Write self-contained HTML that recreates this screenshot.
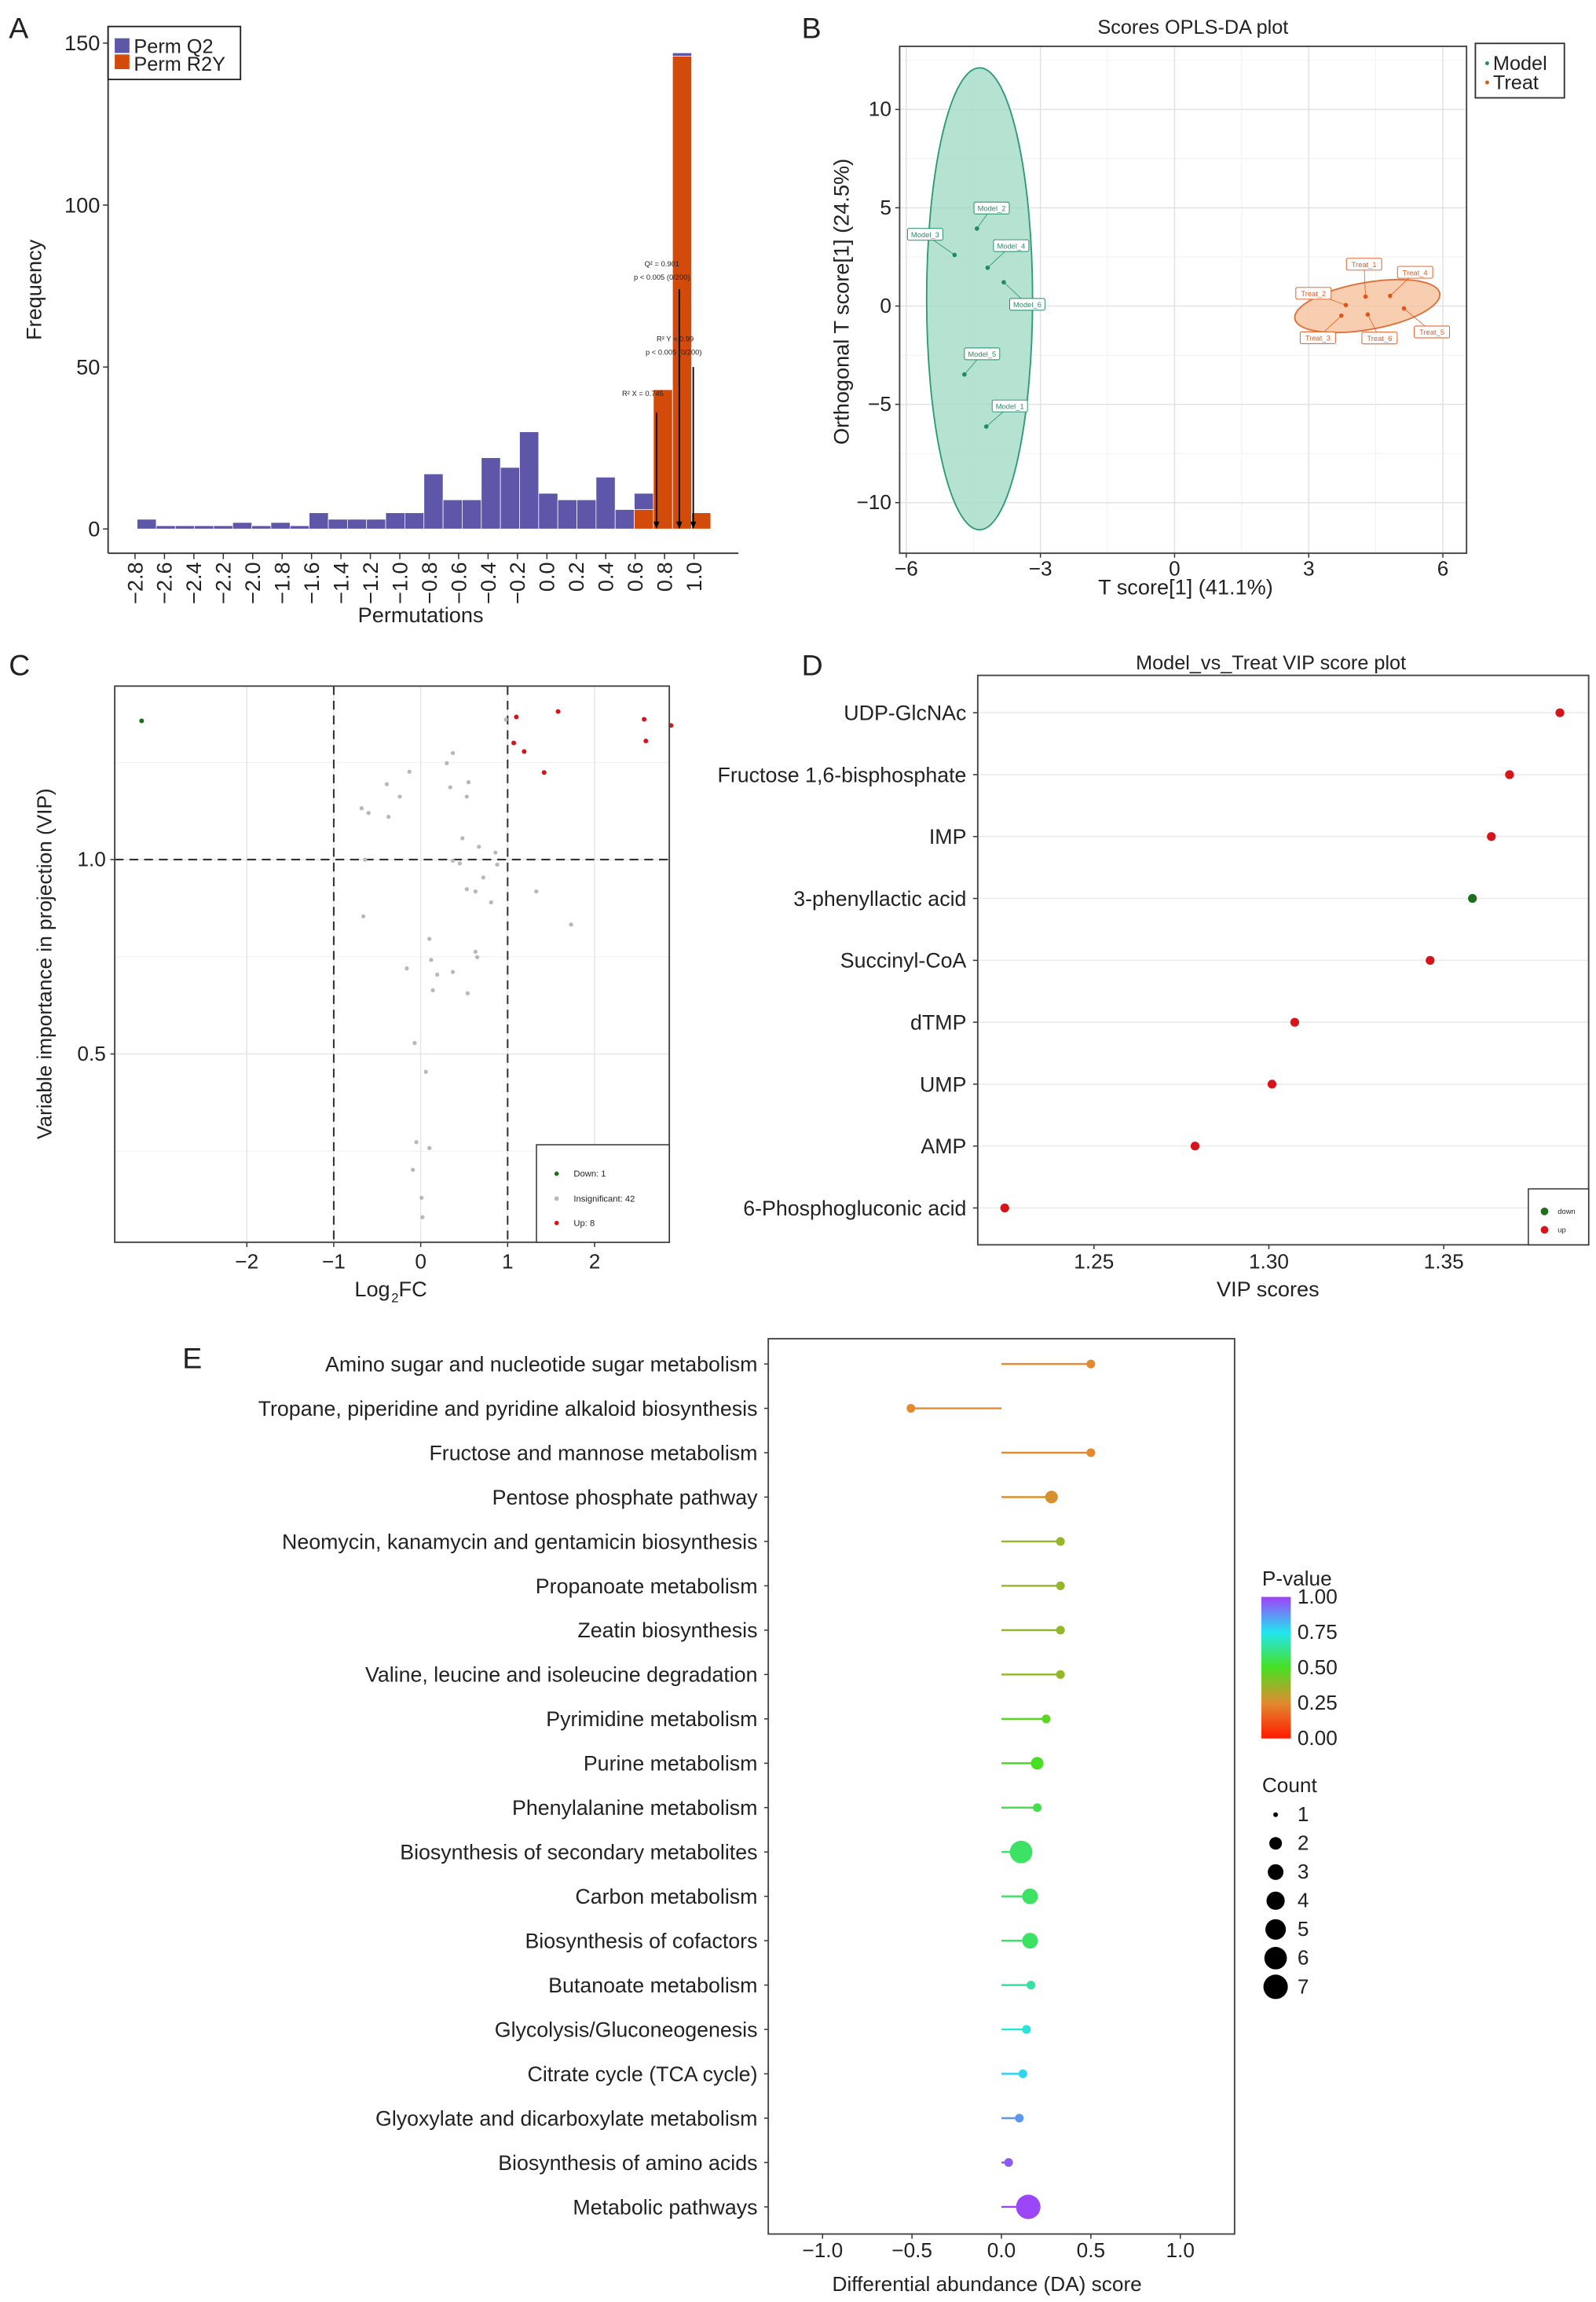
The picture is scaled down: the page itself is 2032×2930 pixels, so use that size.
<!DOCTYPE html>
<html><head><meta charset="utf-8">
<style>
html,body{margin:0;padding:0;background:#fff;}
svg{display:block;}
text{font-family:"Liberation Sans",Arial,sans-serif;fill:#222;}
</style></head>
<body>
<svg id="fig" xmlns="http://www.w3.org/2000/svg" width="2032" height="2930" viewBox="0 0 1085 1564.5" preserveAspectRatio="none"></svg>
<script>
// ---------- Panel A data ----------
const aTicks = [-2.8,-2.6,-2.4,-2.2,-2.0,-1.8,-1.6,-1.4,-1.2,-1.0,-0.8,-0.6,-0.4,-0.2,0.0,0.2,0.4,0.6,0.8,1.0];
const aYTicks = [0,50,100,150];
const aQ2 = [3,1,1,1,1,2,1,2,1,5,3,3,3,5,5,17,9,9,22,19,30,11,9,9,16,6,11,0,147,0];
const aR2Y = [0,0,0,0,0,0,0,0,0,0,0,0,0,0,0,0,0,0,0,0,0,0,0,0,0,0,6,43,146,5];
const aArrowX = [0.745,0.90,0.995];
const aArrowTop = [36,74,50];
// ---------- Panel B data ----------
const bModelNames = ["Model_1","Model_2","Model_3","Model_4","Model_5","Model_6"];
const bModelX = [-4.21,-4.42,-4.92,-4.18,-4.70,-3.82];
const bModelY = [-6.13,3.94,2.6,1.95,-3.48,1.21];
const bTreatNames = ["Treat_1","Treat_2","Treat_3","Treat_4","Treat_5","Treat_6"];
const bTreatX = [4.27,3.83,3.73,4.82,5.13,4.32];
const bTreatY = [0.48,0.05,-0.49,0.52,-0.12,-0.43];
const bXTicks = [-6,-3,0,3,6];
const bYTicks = [-10,-5,0,5,10];
// ---------- Panel C data ----------
const cDownX = [-3.21];
const cDownY = [1.357];
const cUpX = [1.10,1.58,2.57,2.88,1.07,1.19,2.59,1.42];
const cUpY = [1.367,1.381,1.361,1.345,1.30,1.278,1.305,1.224];
const cInsX = [0.37,0.30,-0.13,-0.39,0.34,0.55,-0.24,0.53,-0.68,-0.60,-0.37,0.48,0.67,0.86,-0.64,0.37,0.88,0.72,0.53,0.63,1.33,0.81,-0.66,1.73,0.10,0.63,0.65,0.12,-0.16,0.19,0.37,0.14,0.54,-0.07,0.06,-0.05,0.10,-0.09,0.01,0.02,0.98,0.45];
const cInsY = [1.274,1.248,1.226,1.194,1.186,1.199,1.162,1.162,1.132,1.12,1.11,1.055,1.033,1.018,1.0,0.997,0.987,0.954,0.924,0.918,0.918,0.89,0.854,0.833,0.796,0.763,0.749,0.742,0.72,0.704,0.711,0.664,0.656,0.528,0.454,0.273,0.258,0.202,0.13,0.08,1.36,0.99];
const cXTicks = [-2,-1,0,1,2];
const cYTicks = [0.5,1.0];
// ---------- Panel D data ----------
const dNames = ["UDP-GlcNAc","Fructose 1,6-bisphosphate","IMP","3-phenyllactic acid","Succinyl-CoA","dTMP","UMP","AMP","6-Phosphogluconic acid"];
const dVIP = [1.3832,1.3688,1.3636,1.3582,1.3461,1.3074,1.3009,1.2789,1.2245];
const dDir = ["up","up","up","down","up","up","up","up","up"];
const dXTicks = [1.25,1.30,1.35];
// ---------- Panel E data ----------
const eNames = ["Amino sugar and nucleotide sugar metabolism","Tropane, piperidine and pyridine alkaloid biosynthesis","Fructose and mannose metabolism","Pentose phosphate pathway","Neomycin, kanamycin and gentamicin biosynthesis","Propanoate metabolism","Zeatin biosynthesis","Valine, leucine and isoleucine degradation","Pyrimidine metabolism","Purine metabolism","Phenylalanine metabolism","Biosynthesis of secondary metabolites","Carbon metabolism","Biosynthesis of cofactors","Butanoate metabolism","Glycolysis/Gluconeogenesis","Citrate cycle (TCA cycle)","Glyoxylate and dicarboxylate metabolism","Biosynthesis of amino acids","Metabolic pathways"];
const eDA = [0.50,-0.506,0.50,0.28,0.33,0.33,0.33,0.33,0.25,0.20,0.20,0.11,0.16,0.16,0.165,0.14,0.12,0.10,0.04,0.15];
const eCount = [1,1,1,2,1,1,1,1,1,2,1,6,3,3,1,1,1,1,1,7];
const ePval = [0.25,0.25,0.25,0.27,0.38,0.38,0.38,0.38,0.47,0.5,0.55,0.58,0.58,0.58,0.65,0.72,0.78,0.87,0.96,0.99];
const eXTicks = [-1.0,-0.5,0.0,0.5,1.0];
const eLegendCounts = [1,2,3,4,5,6,7];
const ePLabels = [1.00,0.75,0.50,0.25,0.00];

const NS = "http://www.w3.org/2000/svg";
const svg = document.getElementById("fig");
function mk(tag, attrs, parent){ const e=document.createElementNS(NS,tag); for(const k in attrs) e.setAttribute(k,attrs[k]); (parent||svg).appendChild(e); return e; }
function tx(str, attrs, parent){ const e=mk("text",attrs,parent); e.textContent=str; return e; }
function fmt(v,d){ const s=Math.abs(v).toFixed(d); return (v<0?"\u2212":"")+s; }
let el;

// ================= PANEL A =================
const ax = v => 91.8 + (v+2.8)*100;
const ay = v => 359.5 - v*(330.2/150);
const gA = mk("g",{});  
el = tx("A",{x:6,y:26,"font-size":20}, gA);  
const binStart=-2.786, binW=0.13;
aQ2.forEach((v,i)=>{ if(!v) return; const x0=ax(binStart+i*binW), x1=ax(binStart+(i+1)*binW);
  el=mk("rect",{x:x0,y:ay(v),width:x1-x0,height:ay(0)-ay(v),fill:"#5E56A8",stroke:"#fff","stroke-width":0.4},gA);
    });
aR2Y.forEach((v,i)=>{ if(!v) return; const x0=ax(binStart+i*binW), x1=ax(binStart+(i+1)*binW);
  el=mk("rect",{x:x0,y:ay(v),width:x1-x0,height:ay(0)-ay(v),fill:"#D24B0B",stroke:"#fff","stroke-width":0.4},gA);
    });
aArrowX.forEach((v,i)=>{ const x=ax(v);
  el=mk("line",{x1:x,y1:ay(aArrowTop[i]),x2:x,y2:ay(0)-1,stroke:"#000","stroke-width":1},gA);  
  el=mk("path",{d:`M${x-2},${ay(0)-5} L${x+2},${ay(0)-5} L${x},${ay(0)} Z`,fill:"#000"},gA);  
});
[["Q\u00B2 = 0.901",450,181],["p < 0.005 (0/200)",450,190],["R\u00B2 Y = 0.99",459,232],["p < 0.005 (0/200)",458,241],["R\u00B2 X = 0.745",437,269]].forEach(t=>{
  el=tx(t[0],{x:t[1],y:t[2],"font-size":5,"text-anchor":"middle"},gA);   });
el=mk("line",{x1:73.5,y1:18,x2:73.5,y2:376,stroke:"#333","stroke-width":1},gA);  
el=mk("line",{x1:73.5,y1:376,x2:502,y2:376,stroke:"#333","stroke-width":1},gA);  
aYTicks.forEach(v=>{ el=mk("line",{x1:70,y1:ay(v),x2:73.5,y2:ay(v),stroke:"#333","stroke-width":0.8},gA);  
  el=tx(String(v),{x:68,y:ay(v)+5,"font-size":14.5,"text-anchor":"end"},gA);   });
aTicks.forEach(v=>{ const x=ax(v);
  el=mk("line",{x1:x,y1:376,x2:x,y2:380,stroke:"#333","stroke-width":0.8},gA);  
  el=tx(fmt(v,1),{x:0,y:0,"font-size":14.5,"text-anchor":"end",transform:`translate(${x+5},382) rotate(-90)`},gA);   });
el=tx("Permutations",{x:286,y:423,"font-size":14.5,"text-anchor":"middle"},gA);  
el=tx("Frequency",{x:0,y:0,"font-size":14.5,"text-anchor":"middle",transform:"translate(28,197) rotate(-90)"},gA);  
el=mk("rect",{x:73.5,y:18,width:90,height:36,fill:"#fff",stroke:"#222","stroke-width":1},gA);  
el=mk("rect",{x:78,y:26,width:10,height:10,fill:"#5E56A8"},gA);  
el=mk("rect",{x:78,y:37,width:10,height:10,fill:"#D24B0B"},gA);  
el=tx("Perm Q2",{x:91,y:36,"font-size":13.5},gA);  
el=tx("Perm R2Y",{x:91,y:48,"font-size":13.5},gA);  

// ================= PANEL B =================
const bx = v => 798.5 + v*30.4;
const by = v => 208 - v*13.36;
const gB = mk("g",{});  
el = tx("B",{x:545,y:26,"font-size":20}, gB);  
el=tx("Scores OPLS-DA plot",{x:811,y:23,"font-size":13.5,"text-anchor":"middle"},gB);  
[-4.5,-1.5,1.5,4.5].forEach(v=>{ el=mk("line",{x1:bx(v),y1:31.5,x2:bx(v),y2:376,stroke:"#f0f0f0","stroke-width":0.5},gB);   });
[-12.5,-7.5,-2.5,2.5,7.5,12.5].forEach(v=>{ el=mk("line",{x1:611.6,y1:by(v),x2:997,y2:by(v),stroke:"#f0f0f0","stroke-width":0.5},gB);   });
bXTicks.forEach(v=>{ el=mk("line",{x1:bx(v),y1:31.5,x2:bx(v),y2:376,stroke:"#e2e2e2","stroke-width":0.8},gB);  
  el=mk("line",{x1:bx(v),y1:376,x2:bx(v),y2:379,stroke:"#333","stroke-width":0.8},gB);  
  el=tx(fmt(v,0),{x:bx(v),y:391,"font-size":14,"text-anchor":"middle"},gB);   });
bYTicks.forEach(v=>{ el=mk("line",{x1:611.6,y1:by(v),x2:997,y2:by(v),stroke:"#e2e2e2","stroke-width":0.8},gB);  
  el=mk("line",{x1:608.6,y1:by(v),x2:611.6,y2:by(v),stroke:"#333","stroke-width":0.8},gB);  
  el=tx(fmt(v,0),{x:606,y:by(v)+4.5,"font-size":14,"text-anchor":"end"},gB);   });
el=mk("ellipse",{cx:bx(-4.36),cy:by(0.37),rx:36,ry:157,fill:"#9ED8C2","fill-opacity":0.75,stroke:"#2E9B78","stroke-width":1},gB);  
el=mk("ellipse",{cx:0,cy:0,rx:50,ry:16,fill:"#F7C6A3","fill-opacity":0.85,stroke:"#E0703A","stroke-width":1,transform:`translate(${bx(4.31)},${by(0.0)}) rotate(-10)`},gB);  
const mLab = [[16,-14],[10,-14],[-20,-14],[16,-15],[12,-14],[16,15]];
const tLab = [[-1,-22],[-22,-8],[-16,15],[17,-16],[19,16],[8,16]];
function drawPts(xs,ys,names,labs,col,txtCol,nm){
  xs.forEach((v,i)=>{ const px=bx(v), py=by(ys[i]); const lx=px+labs[i][0], ly=py+labs[i][1];
    el=mk("line",{x1:px,y1:py,x2:lx,y2:ly,stroke:col,"stroke-width":0.4},gB);  
    el=mk("rect",{x:lx-12,y:ly-4,width:24,height:8,rx:1,fill:"#fff",stroke:col,"stroke-width":0.5},gB);  
    el=tx(names[i],{x:lx,y:ly+2,"font-size":5,"text-anchor":"middle",style:`fill:${txtCol}`},gB);  
    el=mk("circle",{cx:px,cy:py,r:1.5,fill:col},gB);   });
}
drawPts(bModelX,bModelY,bModelNames,mLab,"#1E8A66","#2E8A6A","model-point");
drawPts(bTreatX,bTreatY,bTreatNames,tLab,"#E0561A","#D8602A","treat-point");
el=mk("rect",{x:611.6,y:31.5,width:385.4,height:344.5,fill:"none",stroke:"#444","stroke-width":1},gB);  
el=tx("T score[1] (41.1%)",{x:806,y:404,"font-size":14.5,"text-anchor":"middle"},gB);  
el=tx("Orthogonal T score[1] (24.5%)",{x:0,y:0,"font-size":14.5,"text-anchor":"middle",transform:"translate(577,205) rotate(-90)"},gB);  
el=mk("rect",{x:1003,y:29.5,width:60.5,height:37,fill:"#fff",stroke:"#333","stroke-width":1},gB);  
el=mk("circle",{cx:1011,cy:43,r:1.3,fill:"#1E8A66"},gB);  
el=mk("circle",{cx:1011,cy:56,r:1.3,fill:"#E0561A"},gB);  
el=tx("Model",{x:1015,y:47.5,"font-size":13.5},gB);  
el=tx("Treat",{x:1015,y:60.5,"font-size":13.5},gB);  

// ================= PANEL C =================
const cx_ = v => 286 + v*59.1;
const cy_ = v => 584.2 - (v-1)*264.2;
const gC = mk("g",{});  
el = tx("C",{x:6,y:459,"font-size":20}, gC);  
[0.25,0.75,1.25].forEach(v=>{ el=mk("line",{x1:78,y1:cy_(v),x2:455,y2:cy_(v),stroke:"#f2f2f2","stroke-width":0.6},gC);   });
cXTicks.forEach(v=>{ el=mk("line",{x1:cx_(v),y1:466.3,x2:cx_(v),y2:844.3,stroke:"#e6e6e6","stroke-width":0.8},gC);  
  el=mk("line",{x1:cx_(v),y1:844.3,x2:cx_(v),y2:847.5,stroke:"#333","stroke-width":0.8},gC);  
  el=tx(fmt(v,0),{x:cx_(v),y:862,"font-size":14,"text-anchor":"middle"},gC);   });
cYTicks.forEach(v=>{ el=mk("line",{x1:78,y1:cy_(v),x2:455,y2:cy_(v),stroke:"#e6e6e6","stroke-width":0.8},gC);  
  el=mk("line",{x1:75,y1:cy_(v),x2:78,y2:cy_(v),stroke:"#333","stroke-width":0.8},gC);  
  el=tx(v.toFixed(1),{x:72,y:cy_(v)+4.5,"font-size":14,"text-anchor":"end"},gC);   });
[-1,1].forEach(v=>{ el=mk("line",{x1:cx_(v),y1:466.3,x2:cx_(v),y2:844.3,stroke:"#333","stroke-width":1.1,"stroke-dasharray":"6,4"},gC);   });
el=mk("line",{x1:78,y1:cy_(1),x2:455,y2:cy_(1),stroke:"#333","stroke-width":1.1,"stroke-dasharray":"6,4"},gC);  
cInsX.forEach((v,i)=>{ el=mk("circle",{cx:cx_(v),cy:cy_(cInsY[i]),r:1.4,fill:"#B8B8B8"},gC);   });
cUpX.forEach((v,i)=>{ el=mk("circle",{cx:cx_(v),cy:cy_(cUpY[i]),r:1.6,fill:"#D7141A"},gC);   });
cDownX.forEach((v,i)=>{ el=mk("circle",{cx:cx_(v),cy:cy_(cDownY[i]),r:1.6,fill:"#1E6E1E"},gC);   });
el=mk("rect",{x:78,y:466.3,width:377,height:378,fill:"none",stroke:"#444","stroke-width":1},gC);  
el=mk("rect",{x:364.7,y:778,width:90.3,height:66.3,fill:"#fff",stroke:"#333","stroke-width":0.8},gC);  
[["Down: 1","#1E6E1E",797.7,"legend-entry-down"],["Insignificant: 42","#B8B8B8",814.6,"legend-entry-insignificant"],["Up: 8","#D7141A",831.2,"legend-entry-up"]].forEach(t=>{
  el=mk("circle",{cx:378.4,cy:t[2],r:1.5,fill:t[1]},gC);  
  el=tx(t[0],{x:390,y:t[2]+2,"font-size":6},gC);   });
el=tx("Log",{x:241,y:881,"font-size":14.5},gC);  
el=tx("2",{x:266,y:885,"font-size":9},gC);  
el=tx("FC",{x:271,y:881,"font-size":14.5},gC);  
el=tx("Variable importance in projection (VIP)",{x:0,y:0,"font-size":14,"text-anchor":"middle",transform:"translate(35,655) rotate(-90)"},gC);  

// ================= PANEL D =================
const dx = v => 862.6 + (v-1.3)*2378;
const dy = i => 484.4 + i*42.07;
const gD = mk("g",{});  
el = tx("D",{x:545,y:459,"font-size":20}, gD);  
el=tx("Model_vs_Treat VIP score plot",{x:864,y:455,"font-size":13.5,"text-anchor":"middle"},gD);  
dNames.forEach((n,i)=>{ el=mk("line",{x1:664.7,y1:dy(i),x2:1080,y2:dy(i),stroke:"#ececec","stroke-width":0.9},gD);  
  el=mk("line",{x1:661.5,y1:dy(i),x2:664.7,y2:dy(i),stroke:"#333","stroke-width":0.8},gD);  
  el=tx(n,{x:657,y:dy(i)+5,"font-size":14.3,"text-anchor":"end"},gD);   });
dXTicks.forEach(v=>{ el=mk("line",{x1:dx(v),y1:846,x2:dx(v),y2:849,stroke:"#333","stroke-width":0.8},gD);  
  el=tx(v.toFixed(2),{x:dx(v),y:862,"font-size":14,"text-anchor":"middle"},gD);   });
dVIP.forEach((v,i)=>{ el=mk("circle",{cx:dx(v),cy:dy(i),r:3,fill:dDir[i]==="up"?"#D7141A":"#1E6E1E"},gD);   });
el=mk("rect",{x:664.7,y:459,width:415.3,height:387,fill:"none",stroke:"#444","stroke-width":1},gD);  
el=mk("rect",{x:1039,y:808,width:41,height:38,fill:"#fff",stroke:"#333","stroke-width":0.8},gD);  
el=mk("circle",{cx:1050,cy:823.3,r:2.6,fill:"#1E6E1E"},gD);  
el=mk("circle",{cx:1050,cy:835.8,r:2.6,fill:"#D7141A"},gD);  
el=tx("down",{x:1059,y:825,"font-size":5},gD);  
el=tx("up",{x:1059,y:837.5,"font-size":5},gD);  
el=tx("VIP scores",{x:862,y:881,"font-size":14.5,"text-anchor":"middle"},gD);  

// ================= PANEL E =================
const ex = v => 680.8 + v*121.6;
const ey = i => 927 + i*30.15;
const er = c => -0.3 + 3.25*Math.sqrt(c);
const stops = [[0,[255,26,0]],[0.25,[226,138,48]],[0.5,[72,224,34]],[0.75,[34,230,240]],[1,[160,64,248]]];
function pcol(p){ for(let k=0;k<stops.length-1;k++){ const a=stops[k],b=stops[k+1]; if(p<=b[0]){ const t=(p-a[0])/(b[0]-a[0]); const c=a[1].map((q,j)=>Math.round(q+(b[1][j]-q)*t)); return `rgb(${c[0]},${c[1]},${c[2]})`; } } return "rgb(160,64,248)"; }
const gE = mk("g",{});  
el = tx("E",{x:124,y:930,"font-size":20}, gE);  
eNames.forEach((n,i)=>{
  el=mk("line",{x1:519.5,y1:ey(i),x2:522.3,y2:ey(i),stroke:"#333","stroke-width":0.8},gE);  
  el=tx(n,{x:515,y:ey(i)+5,"font-size":14.3,"text-anchor":"end"},gE);   });
eDA.forEach((v,i)=>{ const col=pcol(ePval[i]);
  el=mk("line",{x1:ex(0),y1:ey(i),x2:ex(v),y2:ey(i),stroke:col,"stroke-width":1.3},gE);  
  el=mk("circle",{cx:ex(v),cy:ey(i),r:er(eCount[i]),fill:col},gE);   });
el=mk("rect",{x:522.3,y:909.8,width:317,height:608.5,fill:"none",stroke:"#444","stroke-width":1},gE);  
eXTicks.forEach(v=>{ el=mk("line",{x1:ex(v),y1:1518.3,x2:ex(v),y2:1521.5,stroke:"#333","stroke-width":0.8},gE);  
  el=tx(fmt(v,1),{x:ex(v),y:1534,"font-size":14,"text-anchor":"middle"},gE);   });
el=tx("Differential abundance (DA) score",{x:671,y:1557,"font-size":14,"text-anchor":"middle"},gE);  
const defs = mk("defs",{}, svg);
const lg = mk("linearGradient",{id:"pgrad",x1:0,y1:1,x2:0,y2:0},defs);
stops.forEach(s=>{ mk("stop",{offset:s[0],"stop-color":`rgb(${s[1].join(",")})`},lg); });
el=tx("P-value",{x:858,y:1077.5,"font-size":14},gE);  
el=mk("rect",{x:857.5,y:1085.3,width:20,height:96.2,fill:"url(#pgrad)"},gE);  
ePLabels.forEach(v=>{ const y=1181.5 - v*96.2;
  el=tx(v.toFixed(2),{x:882,y:y+4.5,"font-size":14},gE);   });
el=tx("Count",{x:858,y:1218,"font-size":14},gE);  
eLegendCounts.forEach((c,k)=>{ const y=1233.3+k*19.5;
  el=mk("circle",{cx:867.2,cy:y,r:(c===1?1.6:er(c)),fill:"#000"},gE);  
  el=tx(String(c),{x:882,y:y+4.5,"font-size":14},gE);   });
</script>
</body></html>
